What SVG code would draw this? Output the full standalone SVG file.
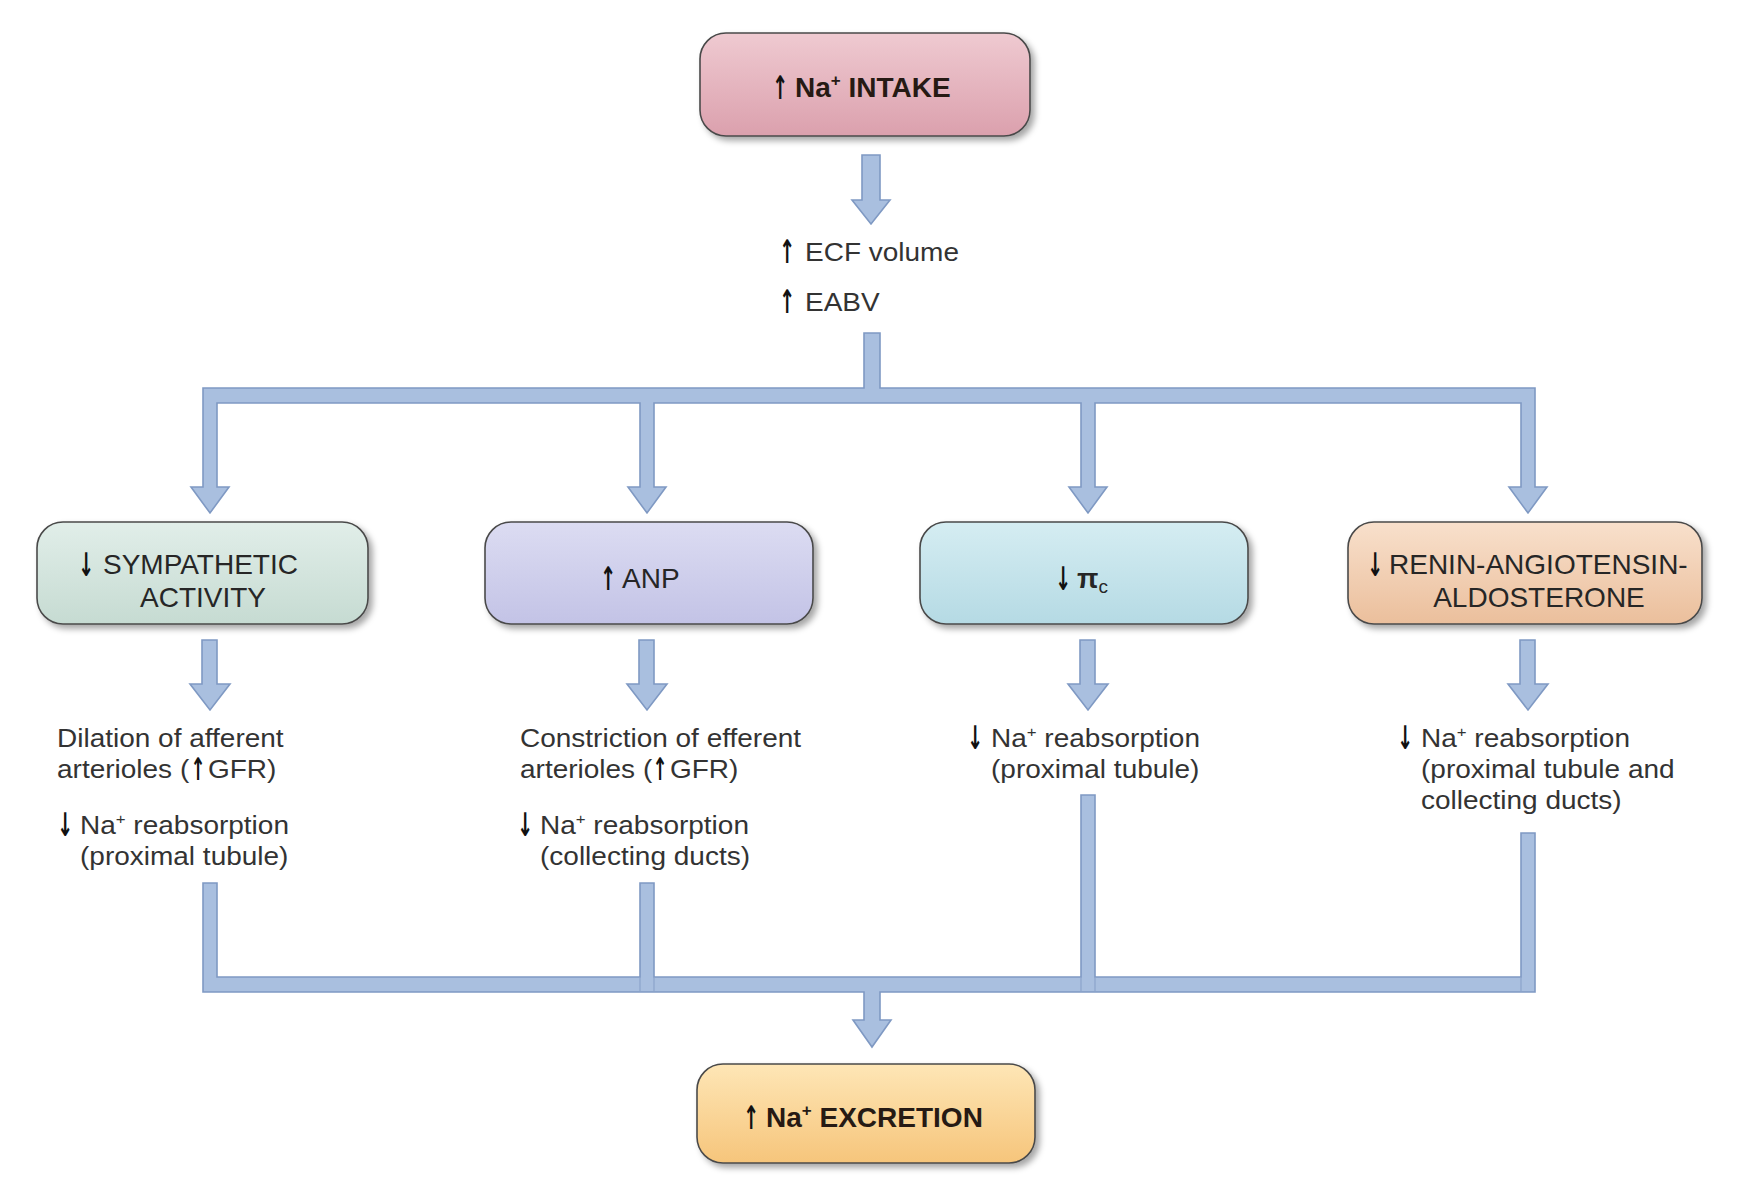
<svg xmlns="http://www.w3.org/2000/svg" width="1741" height="1179" viewBox="0 0 1741 1179">
<style>
.box{stroke:#4a4a4a;stroke-width:1.6;}
.bt{font-family:"Liberation Sans",Arial,sans-serif;font-size:28px;fill:#262626;}
.bb{font-family:"Liberation Sans",Arial,sans-serif;font-size:28px;font-weight:bold;fill:#261a14;}
.st{font-family:"Liberation Sans",Arial,sans-serif;font-size:25px;fill:#333;}
.ar{font-family:"DejaVu Sans","Liberation Sans",sans-serif;font-size:24px;font-weight:bold;fill:#111;text-anchor:middle;}
.conn{fill:#a9bfdf;stroke:#7f99c3;stroke-width:1.6;stroke-linejoin:miter;}
.seam{stroke:#8ca4cb;stroke-width:1.2;}
</style>
<defs>
<filter id="sh" x="-10%" y="-20%" width="125%" height="150%">
<feDropShadow dx="4" dy="4" stdDeviation="3" flood-color="#000" flood-opacity="0.35"/>
</filter>
<linearGradient id="gPink" x1="0" y1="0" x2="0" y2="1"><stop offset="0" stop-color="#efcad1"/><stop offset="1" stop-color="#dba0ad"/></linearGradient>
<linearGradient id="gGreen" x1="0" y1="0" x2="0" y2="1"><stop offset="0" stop-color="#e1eee9"/><stop offset="1" stop-color="#c6dbd2"/></linearGradient>
<linearGradient id="gLav" x1="0" y1="0" x2="0" y2="1"><stop offset="0" stop-color="#dcdcf2"/><stop offset="1" stop-color="#c3c3e6"/></linearGradient>
<linearGradient id="gBlue" x1="0" y1="0" x2="0" y2="1"><stop offset="0" stop-color="#d5edf2"/><stop offset="1" stop-color="#b5dae4"/></linearGradient>
<linearGradient id="gPeach" x1="0" y1="0" x2="0" y2="1"><stop offset="0" stop-color="#f8e0cc"/><stop offset="1" stop-color="#ebbf9c"/></linearGradient>
<linearGradient id="gOrange" x1="0" y1="0" x2="0" y2="1"><stop offset="0" stop-color="#fee6b6"/><stop offset="1" stop-color="#f6c57b"/></linearGradient>
</defs>
<rect width="1741" height="1179" fill="#ffffff"/>

<g id="connectors">
<path class="conn" d="M862,155 H880 V200 H890 L871,224 L852,200 H862 Z"/>
<path class="conn" d="M864,333 H880 V388 H1535 V487 H1547 L1528,513 L1509,487 H1521 V403 H1095 V487 H1107 L1088,513 L1069,487 H1081 V403 H654 V487 H666 L647,513 L628,487 H640 V403 H217 V487 H229 L210,513 L191,487 H203 V388 H864 Z"/>
<path class="conn" d="M202,640 H217 V684 H230 L210,710 L190,684 H202 Z"/>
<path class="conn" d="M639,640 H654 V684 H667 L647,710 L627,684 H639 Z"/>
<path class="conn" d="M1080,640 H1095 V684 H1108 L1088,710 L1068,684 H1080 Z"/>
<path class="conn" d="M1520,640 H1535 V684 H1548 L1528,710 L1508,684 H1520 Z"/>
<path class="conn" d="M203,883 H217 V977 H640 V883 H654 V977 H1081 V795 H1095 V977 H1521 V833 H1535 V992 H880 V1020 H891 L872,1047 L853,1020 H864 V992 H203 Z"/>
<line class="seam" x1="640" y1="977" x2="640" y2="991"/>
<line class="seam" x1="654" y1="977" x2="654" y2="991"/>
<line class="seam" x1="1081" y1="977" x2="1081" y2="991"/>
<line class="seam" x1="1095" y1="977" x2="1095" y2="991"/>
<line class="seam" x1="1521" y1="977" x2="1521" y2="991"/>
</g>

<g id="node-intake">
<rect class="box" x="700" y="33" width="330" height="103" rx="26" fill="url(#gPink)" filter="url(#sh)"/>
<text class="ar" transform="translate(780,99) scale(0.8,1.35)">↑</text>
<text class="bb" x="795" y="97">Na<tspan font-size="17" dy="-11">+</tspan><tspan dy="11"> INTAKE</tspan></text>
</g>

<g id="node-ecf">
<text class="ar" transform="translate(787,263) scale(0.8,1.35)">↑</text>
<text class="st" transform="translate(805,261) scale(1.12,1)">ECF volume</text>
<text class="ar" transform="translate(787,313) scale(0.8,1.35)">↑</text>
<text class="st" transform="translate(805,311) scale(1.12,1)">EABV</text>
</g>

<g id="node-sympathetic">
<rect class="box" x="37" y="522" width="331" height="102" rx="26" fill="url(#gGreen)" filter="url(#sh)"/>
<text class="ar" transform="translate(86,576) scale(0.8,1.35)">↓</text>
<text class="bt" x="103" y="574">SYMPATHETIC</text>
<text class="bt" x="203" y="607" text-anchor="middle">ACTIVITY</text>
</g>

<g id="node-anp">
<rect class="box" x="485" y="522" width="328" height="102" rx="26" fill="url(#gLav)" filter="url(#sh)"/>
<text class="ar" transform="translate(608,590) scale(0.8,1.35)">↑</text>
<text class="bt" x="622" y="588">ANP</text>
</g>

<g id="node-pic">
<rect class="box" x="920" y="522" width="328" height="102" rx="26" fill="url(#gBlue)" filter="url(#sh)"/>
<text class="ar" transform="translate(1063,590) scale(0.8,1.35)">↓</text>
<text class="bt" x="1077" y="588" font-weight="bold">π<tspan font-size="19" font-weight="normal" dy="5">c</tspan></text>
</g>

<g id="node-raa">
<rect class="box" x="1348" y="522" width="354" height="102" rx="26" fill="url(#gPeach)" filter="url(#sh)"/>
<text class="ar" transform="translate(1375,576) scale(0.8,1.35)">↓</text>
<text class="bt" x="1389" y="574">RENIN-ANGIOTENSIN-</text>
<text class="bt" x="1539" y="607" text-anchor="middle">ALDOSTERONE</text>
</g>

<g id="text-col1">
<text class="st" transform="translate(57,747) scale(1.12,1)">Dilation of afferent</text>
<text class="st" transform="translate(57,778) scale(1.12,1)">arterioles (</text>
<text class="ar" transform="translate(198,780) scale(0.75,1.3)">↑</text>
<text class="st" transform="translate(208,778) scale(1.12,1)">GFR)</text>
<text class="ar" transform="translate(65,836) scale(0.8,1.35)">↓</text>
<text class="st" transform="translate(80,834) scale(1.12,1)">Na<tspan font-size="15" dy="-10">+</tspan><tspan dy="10"> reabsorption</tspan></text>
<text class="st" transform="translate(80,865) scale(1.12,1)">(proximal tubule)</text>
</g>

<g id="text-col2">
<text class="st" transform="translate(520,747) scale(1.12,1)">Constriction of efferent</text>
<text class="st" transform="translate(520,778) scale(1.12,1)">arterioles (</text>
<text class="ar" transform="translate(660,780) scale(0.75,1.3)">↑</text>
<text class="st" transform="translate(670,778) scale(1.12,1)">GFR)</text>
<text class="ar" transform="translate(525,836) scale(0.8,1.35)">↓</text>
<text class="st" transform="translate(540,834) scale(1.12,1)">Na<tspan font-size="15" dy="-10">+</tspan><tspan dy="10"> reabsorption</tspan></text>
<text class="st" transform="translate(540,865) scale(1.12,1)">(collecting ducts)</text>
</g>

<g id="text-col3">
<text class="ar" transform="translate(975,749) scale(0.8,1.35)">↓</text>
<text class="st" transform="translate(991,747) scale(1.12,1)">Na<tspan font-size="15" dy="-10">+</tspan><tspan dy="10"> reabsorption</tspan></text>
<text class="st" transform="translate(991,778) scale(1.12,1)">(proximal tubule)</text>
</g>

<g id="text-col4">
<text class="ar" transform="translate(1405,749) scale(0.8,1.35)">↓</text>
<text class="st" transform="translate(1421,747) scale(1.12,1)">Na<tspan font-size="15" dy="-10">+</tspan><tspan dy="10"> reabsorption</tspan></text>
<text class="st" transform="translate(1421,778) scale(1.12,1)">(proximal tubule and</text>
<text class="st" transform="translate(1421,809) scale(1.12,1)">collecting ducts)</text>
</g>

<g id="node-excretion">
<rect class="box" x="697" y="1064" width="338" height="99" rx="26" fill="url(#gOrange)" filter="url(#sh)"/>
<text class="ar" transform="translate(751,1129) scale(0.8,1.35)">↑</text>
<text class="bb" x="766" y="1127">Na<tspan font-size="17" dy="-11">+</tspan><tspan dy="11"> EXCRETION</tspan></text>
</g>
</svg>
